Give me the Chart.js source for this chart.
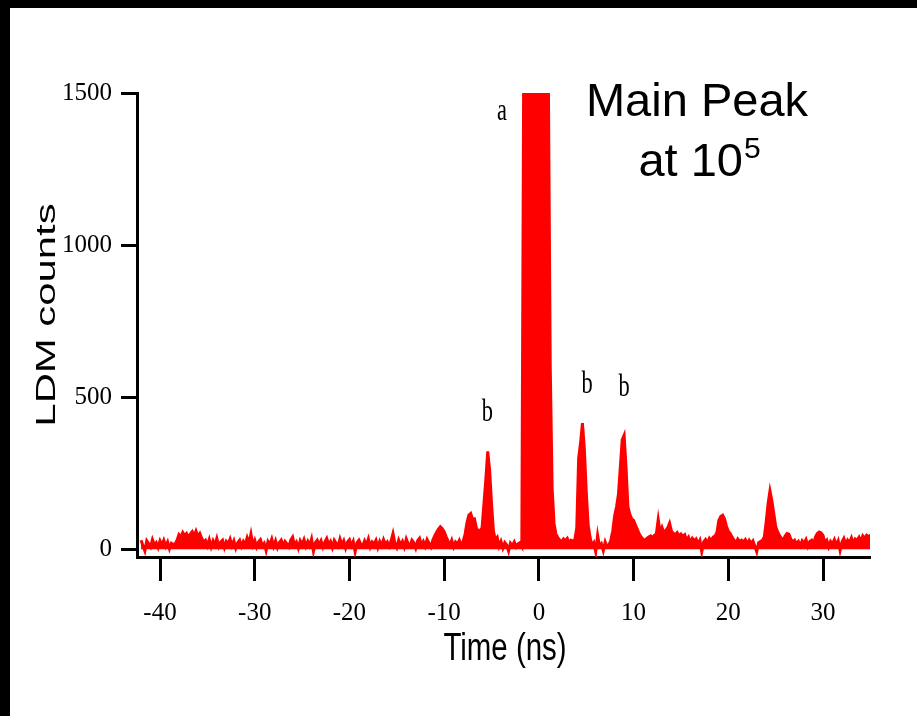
<!DOCTYPE html>
<html>
<head>
<meta charset="utf-8">
<script src="https://cdn.jsdelivr.net/npm/chart.js@4.4.1/dist/chart.umd.min.js"></script>
<style>
  html, body { margin: 0; padding: 0; background: #fff; }
  canvas { display: block; }
</style>
</head>
<body>
<canvas id="ldmChart" width="917" height="716"></canvas>
<script>
// time bins of the trace (ns)
const timeStart = -42.0;
const timeStep = 0.2;

// LDM counts, one row = 2 ns
const countsFarLeft = [
  30, 12, -5, 28, 18, 8, 32, 15,
  22, 6, 28, 14, 30, 10, 24, 2, 20, 16,
  18, 30, 48, 40, 55, 45, 52, 38, 50, 58,
  44, 60, 42, 52, 36, 25, 30, 12, 32, 8,
  28, 14, 36, 10, 24, 30, 6, 26, 18, 34,
  12, 28, 4, 22, 30, 10, 26, 16, 38, 20,
  50, 14, 30, 8, 24, 32, 12, 20, -4, 26,
  16, 34, 10, 28, 6, 22, 30, 12, 26, 18,
  8, 30, 40, 14, 24, 4, 28, 16, 32, 10,
  26, 12, 34, -6, 22, 30, 14, 28, 8, 24,
  36, 16, 26, 6, 30, 20, 10, 34, 14, 28,
  4, 24, 32, 12, 26, -8, 22, 30, 16, 10,
  28, 14, 34, 8, 24, 18, 30, 6, 26, 12,
  32, 16, 24, 10, 28, 52, 20, 6, 30, 14,
  26, 8, 34, 18, 12, 30, 22, 4, 28, 36
];
const countsNearLeft = [
  14, 26, 10, 32, 20, 8, 30, 44, 56, 66,
  74, 68, 58, 42, 28, 12, 30, 8, 24, 18,
  30, 12, 26, 48, 86, 112, 118, 98, 100, 70,
  60, 62, 70, 150, 230, 322, 260, 150, 60, 32,
  40, 10, 26, 4, 22, 14, -6, 20, 12, 24,
  8, 18, 22, 10, 1600, 9000, 30000, 60000, 85000, 100000
];
const countsMain = [
  100000, 98000, 90000, 70000, 45000, 20000, 6000, 1550, 600, 200,
  85, 50, 38, 30, 24, 34, 28, 36, 22, 30
];
const countsRight = [
  26, 32, 70, 300, 350, 415, 330, 190, 80, 40,
  12, 22, -8, 46, 10, 18, -4, 24, 8, 14,
  30, 60, 110, 140, 180, 270, 360, 375, 270, 140,
  115, 100, 95, 80, 65, 50, 40, 34, 28, 36,
  40, 44, 38, 46, 50, 98, 55, 72, 54, 62,
  70, 86, 60, 52, 48, 55, 44, 50, 42, 48,
  30, 40, 22, 36, 28, 34, 18, 30, -8, 24,
  32, 20, 36, 28, 40, 44, 55, 95, 108, 112,
  100, 76, 60, 52, 40, 30, 22, 34, 26, 30,
  24, 32, 18, 30, 20, 28, 10, -8, 22, 26,
  30, 40, 90, 150, 192, 160, 118, 75, 58, 45,
  36, 30, 44, 52, 50, 34, 24, 30, 18, 26,
  12, 28, 20, 32, 10, 26, 30, 18, 40, 52,
  57, 54, 46, 22, 30, 8, 26, 18, 32, 14,
  28, -4, 24, 36, 16, 30, 22, 38, 20, 34,
  30, 40, 26, 44, 36, 46, 40, 48
];

const xTickValues = [-40, -30, -20, -10, 0, 10, 20, 30];
const yTickValues = [0, 500, 1000, 1500];

// peak letters, placed in data coordinates
const peakLabels = ["a", "b", "b", "b"];
const peakLabelTimes = [-3.9, -5.43, 5.1, 8.99];
const peakLabelCounts = [1410, 421, 513, 504];

const allCounts = countsFarLeft.concat(countsNearLeft, countsMain, countsRight);
const points = allCounts.map((v, i) => ({ x: timeStart + i * timeStep, y: v }));

function drawScaled(c, text, x, y, sx) {
    c.save();
    c.translate(x, y);
    c.scale(sx, 1);
    c.fillText(text, 0, 0);
    c.restore();
}

const figureText = {
    id: "figureText",
    beforeDraw(chart) {
        const c = chart.ctx;
        c.save();
        c.fillStyle = "#fff";
        c.fillRect(0, 0, chart.width, chart.height);
        c.fillStyle = "#000";
        c.fillRect(0, 0, chart.width, 8);
        c.fillRect(0, 0, 10, chart.height);
        c.restore();
    },
    afterDraw(chart) {
        const c = chart.ctx;
        const xs = chart.scales.x, ys = chart.scales.y;
        c.save();
        c.fillStyle = "#000";
        c.textBaseline = "alphabetic";
        c.textAlign = "center";

        // peak letters
        c.font = '32px "Liberation Serif"';
        peakLabels.forEach((t, i) => {
            drawScaled(c, t, xs.getPixelForValue(peakLabelTimes[i]), ys.getPixelForValue(peakLabelCounts[i]), 0.7);
        });

        // axis titles
        c.font = '39px "Liberation Sans"';
        drawScaled(c, "Time (ns)", 505, 660, 0.755);

        c.save();
        c.font = '27px "Liberation Sans"';
        c.translate(55, 315);
        c.rotate(-Math.PI / 2);
        c.scale(1.55, 1);
        c.fillText("LDM counts", 0, 0);
        c.restore();

        // note in the corner
        c.font = '47px "Liberation Sans"';
        c.fillText("Main Peak", 697, 116);
        c.textAlign = "left";
        const w1 = c.measureText("at 10").width;
        c.font = '30px "Liberation Sans"';
        const w2 = c.measureText("5").width;
        const x0 = 699 - (w1 + w2) / 2;
        c.font = '47px "Liberation Sans"';
        c.fillText("at 10", x0, 176);
        c.font = '30px "Liberation Sans"';
        c.fillText("5", x0 + w1 + 1, 158);
        c.restore();
    }
};

const ctx = document.getElementById("ldmChart").getContext("2d");
new Chart(ctx, {
    type: "line",
    data: {
        datasets: [{
            data: points,
            borderColor: "#ff0000",
            backgroundColor: "#ff0000",
            borderWidth: 3,
            fill: "origin",
            pointRadius: 0,
            tension: 0
        }]
    },
    options: {
        responsive: false,
        animation: false,
        devicePixelRatio: 1,
        layout: { padding: { top: 93, right: 47, left: 0, bottom: 0 } },
        plugins: { legend: { display: false }, tooltip: { enabled: false } },
        scales: {
            x: {
                type: "linear",
                min: -42.43,
                max: 34.96,
                afterBuildTicks: s => { s.ticks = xTickValues.map(v => ({ value: v })); },
                afterFit: s => { s.height = 159; },
                grid: { drawOnChartArea: false, drawTicks: true, tickLength: 24, tickWidth: 3, tickColor: "#000" },
                border: { display: true, color: "#000", width: 3 },
                ticks: { color: "#000", font: { family: "Liberation Serif", size: 25 }, padding: 17, maxRotation: 0, autoSkip: false,
                         callback: v => String(v) }
            },
            y: {
                type: "linear",
                min: -25.3,
                max: 1500,
                afterBuildTicks: s => { s.ticks = yTickValues.map(v => ({ value: v })); },
                afterFit: s => { s.width = 137; },
                grid: { drawOnChartArea: false, drawTicks: true, tickLength: 16, tickWidth: 3, tickColor: "#000" },
                border: { display: true, color: "#000", width: 3 },
                ticks: { color: "#000", font: { family: "Liberation Serif", size: 25 }, padding: 9,
                         callback: v => String(v) }
            }
        }
    },
    plugins: [figureText]
});
</script>
</body>
</html>
